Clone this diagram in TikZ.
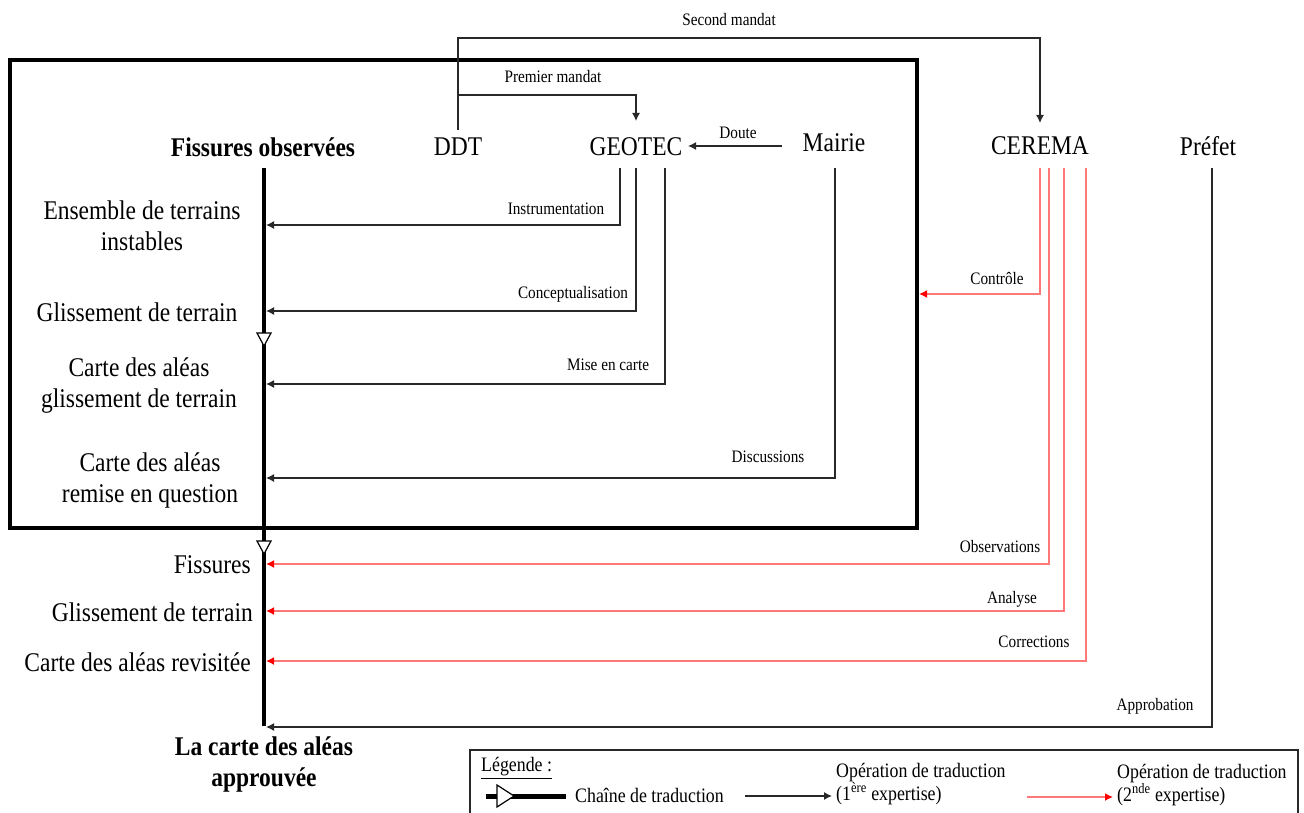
\documentclass[tikz,border=0pt]{standalone}
\usepackage{fontspec}
\setmainfont{Liberation Serif}[FakeStretch=0.87]
\usetikzlibrary{arrows.meta}
\definecolor{lred}{RGB}{255,120,120}
\definecolor{dk}{RGB}{40,40,40}
\begin{document}
\begin{tikzpicture}[x=1pt,y=-1pt,
  mainf/.style={font=\fontsize{27}{31}\selectfont, align=center, inner sep=0pt},
  mainb/.style={font=\fontsize{27}{31}\selectfont\bfseries, align=center, inner sep=0pt},
  lbl/.style={font=\fontsize{17.5}{20}\selectfont, inner sep=0pt},
  legf/.style={font=\fontsize{20.5}{23}\selectfont, inner sep=0pt, align=left},
  blk/.style={draw=dk, line width=1.3pt, -{Latex[length=8pt,width=8pt]}},
  redl/.style={draw=lred, line width=1.5pt, -{Latex[length=8pt,width=8pt,color=red]}},
  chain/.style={line width=4pt},
  tri/.style={fill=white, draw=black, line width=1.2pt}]
\useasboundingbox (0,0) rectangle (1304,813);
% big frame
\draw[line width=4pt] (10,60) rectangle (917,528);
% actors
\node[mainb] (fo) at (263,147) {Fissures observées};
\node[mainf] (ddt) at (458,147) {DDT};
\node[mainf] (geo) at (636,147) {GEOTEC};
\node[mainf] (mai) at (834,143) {Mairie};
\node[mainf] (cer) at (1040,146) {CEREMA};
\node[mainf] (pre) at (1208,146) {Préfet};
% left labels
\node[mainf] (l1) at (142,226) {Ensemble de terrains\\instables};
\node[mainf] (l2) at (137,312) {Glissement de terrain};
\node[mainf] (l3) at (139,386) {Carte des aléas\\glissement de terrain};
\node[mainf] (l4) at (150,480) {Carte des aléas\\remise en question};
\node[mainf, anchor=east] (l5) at (251,565) {Fissures};
\node[mainf, anchor=east] (l6) at (253,612) {Glissement de terrain};
\node[mainf, anchor=east] (l7) at (251,662) {Carte des aléas revisitée};
\node[mainb] (fin) at (264,764) {La carte des aléas\\approuvée};
% chain
\coordinate (ctop) at (264,168);
\coordinate (cbot) at (264,726);
\draw[chain] (ctop) -- (cbot);
\draw[tri] (257,333) -- (271,333) -- (264,346) -- cycle;
\draw[tri] (257,541) -- (271,541) -- (264,554) -- cycle;
% mandates
\coordinate (ddttop) at (458,130);
\coordinate (m1) at (458,95);
\coordinate (m2) at (458,38);
\coordinate (certop) at (1040,123);
\coordinate (geotop) at (636,121);
\draw[blk] (ddttop) -- (m2) -| (certop);
\node[lbl] (sm) at (729,20) {Second mandat};
\draw[blk] (m1) -| (geotop);
\node[lbl] (pm) at (553,77) {Premier mandat};
% doute
\coordinate (dm) at (782,146);
\coordinate (dg) at (688,146);
\draw[blk] (dm) -- (dg);
\node[lbl] (dl) at (738,133) {Doute};
% GEOTEC operations
\coordinate (g1) at (620,168);
\coordinate (g2) at (636,168);
\coordinate (g3) at (665,168);
\coordinate (md) at (835,168);
\coordinate (a1) at (266,225);
\coordinate (a2) at (266,311);
\coordinate (a3) at (266,384);
\coordinate (a4) at (266,478);
\draw[blk] (g1) |- (a1);
\node[lbl] (t1) at (556,209) {Instrumentation};
\draw[blk] (g2) |- (a2);
\node[lbl] (t2) at (573,294) {Conceptualisation};
\draw[blk] (g3) |- (a3);
\node[lbl] (t3) at (608,365) {Mise en carte};
\draw[blk] (md) |- (a4);
\node[lbl] (t4) at (768,457) {Discussions};
% CEREMA operations
\coordinate (r1) at (1040,168);
\coordinate (r2) at (1049,168);
\coordinate (r3) at (1064,168);
\coordinate (r4) at (1086,168);
\coordinate (b1) at (919,294);
\coordinate (b2) at (266,564);
\coordinate (b3) at (266,611);
\coordinate (b4) at (266,661);
\draw[redl] (r1) |- (b1);
\node[lbl] (t5) at (997,278) {Contrôle};
\draw[redl] (r2) |- (b2);
\node[lbl] (t6) at (1000,547) {Observations};
\draw[redl] (r3) |- (b3);
\node[lbl] (t7) at (1012,599) {Analyse};
\draw[redl] (r4) |- (b4);
\node[lbl] (t8) at (1034,642) {Corrections};
% Prefet
\coordinate (p1) at (1212,168);
\coordinate (b5) at (266,727);
\draw[blk] (p1) |- (b5);
\node[lbl] (t9) at (1155,706) {Approbation};
% legend
\draw[line width=1.5pt, draw=dk] (470,750) rectangle (1298,830);
\node[legf, anchor=west] (lg) at (481,768) {\underline{Légende :}};
\coordinate (q1) at (486,796);
\coordinate (q2) at (566,796);
\draw[line width=5pt] (q1) -- (q2);
\draw[tri] (497,785) -- (514,796) -- (497,807) -- cycle;
\node[legf, anchor=west] (lc) at (575,795) {Chaîne de traduction};
\coordinate (q3) at (745,796);
\coordinate (q4) at (832,796);
\draw[blk] (q3) -- (q4);
\node[legf, anchor=west] (lo1) at (836,784) {Opération de traduction\\(1\textsuperscript{ère} expertise)};
\coordinate (q5) at (1027,797);
\coordinate (q6) at (1113,797);
\draw[redl] (q5) -- (q6);
\node[legf, anchor=west] (lo2) at (1117,785) {Opération de traduction\\(2\textsuperscript{nde} expertise)};
\end{tikzpicture}
\end{document}
